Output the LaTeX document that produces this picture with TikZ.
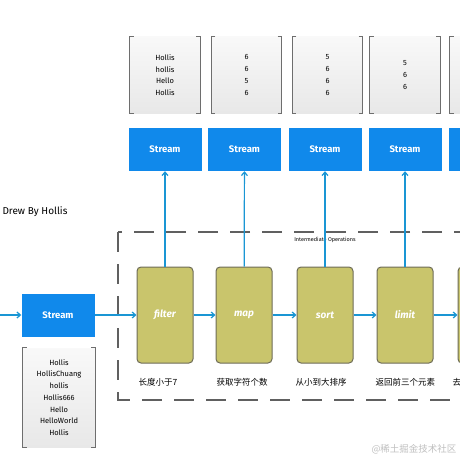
\documentclass[tikz,border=0pt]{standalone}
\usepackage{fontspec}
\setmainfont{Fira Sans}
\newfontfamily\cjk{Noto Sans CJK SC}
\usetikzlibrary{arrows.meta}
\definecolor{strumien}{RGB}{16,137,235}
\definecolor{oliwka}{RGB}{201,197,108}
\definecolor{obrys}{RGB}{110,108,88}
\definecolor{strzalka}{RGB}{26,150,212}
\definecolor{nawiasy}{RGB}{110,110,110}

\begin{document}
\begin{tikzpicture}[
  x=1pt, y=-1pt,
  font=\fontsize{7}{8.4}\selectfont,
  str/.style={fill=strumien, text=white, font=\fontsize{9.5}{11}\selectfont\bfseries,
    minimum width=73pt, minimum height=43pt, inner sep=0},
  op/.style={fill=oliwka, draw=obrys, line width=1pt, rounded corners=4pt,
    minimum width=56pt, minimum height=96pt, inner sep=0, text=white,
    font=\fontsize{10}{12}\selectfont\bfseries\itshape},
  nawL/.style={draw=nawiasy, line width=1pt, to path={++(4pt,0) -| (\tikztotarget) -- ++(4pt,0)}},
  nawP/.style={draw=nawiasy, line width=1pt, to path={++(-4pt,0) -| (\tikztotarget) -- ++(-4pt,0)}},
  lista/.style={top color=gray!5, bottom color=gray!18, minimum width=70pt, minimum height=76pt,
    inner sep=0, align=center, font=\fontsize{7.5}{11.7}\selectfont,
    append after command={\pgfextra{\let\listnode\tikzlastnode}
      (\listnode.north west) edge[nawL] (\listnode.south west)
      (\listnode.north east) edge[nawP] (\listnode.south east)}},
  opis/.style={anchor=west, font=\fontsize{8.5}{9}\selectfont\cjk},
  strz/.style={draw=strzalka, line width=1.2pt, -{Straight Barb[length=3.5pt, width=6pt]}},
  ramkaop/.style={draw=gray!75!black, line width=1.1pt, dash pattern=on 20pt off 12pt},
]
\useasboundingbox (0,0) rectangle (460,460);
% podpis
\node[anchor=west, font=\fontsize{10}{11}\selectfont] (autor) at (-1,212) {Drew By Hollis};
% listy wynikowe
\node[lista] (l1) at (165,75) {Hollis\\hollis\\Hello\\Hollis};
\node[lista] (l2) at (246.5,75) {6\\6\\5\\6};
\node[lista] (l3) at (327.5,75) {5\\6\\6\\6};
\node[lista] (l4) at (405,75) {5\\6\\6};
\node[lista] (l5) at (485,75) {};
% strumienie posrednie
\node[str] (s1) at (165,149.5) {Stream};
\node[str] (s2) at (244.5,149.5) {Stream};
\node[str] (s3) at (325,149.5) {Stream};
\node[str] (s4) at (405,149.5) {Stream};
\node[str] (s5) at (485,149.5) {};
% operacje posrednie
\draw[ramkaop] (118,232) rectangle (480,400);
\node[font=\fontsize{5.5}{6}\selectfont] (io) at (325,240) {Intermediate Operations};
\node[op] (filter) at (165,315) {filter};
\node[op] (map) at (244,315) {map};
\node[op] (sort) at (325,315) {sort};
\node[op] (limit) at (405,315) {limit};
\node[op] (op5) at (486,315) {};
\node[opis] (o1) at (135,382) {长度小于7};
\node[opis] (o2) at (213,382) {获取字符个数};
\node[opis] (o3) at (292,382) {从小到大排序};
\node[opis] (o4) at (372,382) {返回前三个元素};
\node[opis] (o5) at (449,382) {去};
% zrodlo
\coordinate (wej) at (-3,315);
\node[str] (src) at (58,315) {Stream};
\node[lista, minimum width=72pt, minimum height=99pt] (dane) at (59,397.5)
  {Hollis\\HollisChuang\\hollis\\Hollis666\\Hello\\HelloWorld\\Hollis};
% strzalki
\draw[strz] (wej) -- (src);
\draw[strz] (src) -- (filter);
\draw[strz] (filter) -- (map);
\draw[strz] (map) -- (sort);
\draw[strz] (sort) -- (limit);
\draw[strz] (limit) -- (op5);
\draw[strz] (filter) -- (s1);
\draw[strz] (map) -- (s2);
\draw[strz] (sort) -- (s3);
\draw[strz] (limit) -- (s4);
\draw[strz] (op5) -- (s5);
% znak wodny
\node[font=\fontsize{9.5}{10}\selectfont\cjk, text=gray!50] (wm) at (414,449) {@稀土掘金技术社区};
\end{tikzpicture}
\end{document}
